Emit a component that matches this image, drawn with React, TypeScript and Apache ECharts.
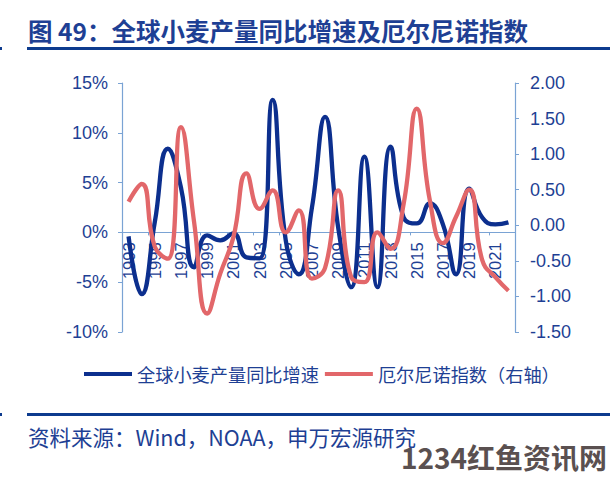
import React, { useEffect, useRef } from "react";
import * as echarts from "echarts";

const years = [
  "1993", "1994", "1995", "1996", "1997", "1998", "1999", "2000", "2001", "2002",
  "2003", "2004", "2005", "2006", "2007", "2008", "2009", "2010", "2011", "2012",
  "2013", "2014", "2015", "2016", "2017", "2018", "2019", "2020", "2021", "2022",
];

// 全球小麦产量同比增速 (%)
const wheatGrowth = [
  -0.4, -6.2, 1.0, 8.4, 4.5, -3.5, -0.3, -0.8, -0.1, -2.5,
  -2.6, 13.3, -0.8, -4.2, 2.5, 11.6, 0.5, -5.5, 7.6, -5.5,
  8.6, 1.5, 0.9, 2.9, 0.8, -4.2, 4.4, 1.5, 0.8, 1.0,
];

// 厄尔尼诺指数 (右轴)
const ensoIndex = [
  0.33, 0.58, -0.3, -0.47, 1.38, 0.05, -1.24, -0.68, -0.17, 0.73,
  0.23, 0.49, -0.1, 0.21, -0.75, -0.6, 0.49, -0.73, -0.8, -0.1,
  -0.33, 0.3, 1.64, 0.35, -0.25, 0.12, 0.5, -0.49, -0.73, -0.92,
];

const seriesNames = ["全球小麦产量同比增速", "厄尔尼诺指数（右轴）"];
const titleText = "图 49：全球小麦产量同比增速及厄尔尼诺指数";
const sourceText = "资料来源：Wind，NOAA，申万宏源研究";
const watermarkText = "1234红鱼资讯网";

const BLUE = "#0c2f8e";
const RED = "#e2676a";
const TEXT = "#1e3f94";
const AXIS = "#7aa3d4";
const RULE = "#0d3b8e";
const CJK = "'Noto Sans CJK SC', sans-serif";
const LATIN = "'Liberation Sans', Arial, sans-serif";

const GRID_TOP = 83;
const GRID_BOTTOM = 150;
const CHART_H = 482;
const LEFT_MIN = -10;
const LEFT_MAX = 15;

export default function App() {
  const ref = useRef<HTMLDivElement>(null);

  useEffect(() => {
    document.body.style.margin = "0";
    if (!ref.current) return;
    const chart = echarts.init(ref.current, undefined, { renderer: "svg" });
    const gridH = CHART_H - GRID_TOP - GRID_BOTTOM;
    // shift the category axis up to the 0% line of the left axis
    const zeroOffset = -(gridH * (0 - LEFT_MIN)) / (LEFT_MAX - LEFT_MIN);
    chart.setOption({
      animation: false,
      backgroundColor: "#ffffff",
      grid: { left: 122, right: 95, top: GRID_TOP, bottom: GRID_BOTTOM, containLabel: false },
      legend: {
        data: seriesNames,
        left: 84,
        top: 365,
        padding: 0,
        icon: "rect",
        itemWidth: 48,
        itemHeight: 4,
        itemGap: 6,
        textStyle: { color: TEXT, fontSize: 18.2, fontFamily: CJK },
      },
      xAxis: {
        type: "category",
        data: years,
        boundaryGap: true,
        offset: zeroOffset,
        axisLine: { show: true, onZero: false, lineStyle: { color: AXIS, width: 1.2 } },
        axisTick: { show: true, interval: 1, length: 3, lineStyle: { color: AXIS } },
        axisLabel: {
          interval: 1,
          rotate: 90,
          margin: 10,
          color: TEXT,
          fontSize: 16.5,
          fontFamily: LATIN,
        },
        splitLine: { show: false },
      },
      yAxis: [
        {
          type: "value",
          min: LEFT_MIN,
          max: LEFT_MAX,
          interval: 5,
          axisLine: { show: true, lineStyle: { color: AXIS, width: 1.2 } },
          axisTick: { show: true, length: 4, lineStyle: { color: AXIS } },
          axisLabel: {
            margin: 14,
            color: TEXT,
            fontSize: 18,
            fontFamily: LATIN,
            formatter: (v: number) => `${v}%`,
          },
          splitLine: { show: false },
        },
        {
          type: "value",
          min: -1.5,
          max: 2.0,
          interval: 0.5,
          position: "right",
          axisLine: { show: true, lineStyle: { color: AXIS, width: 1.2 } },
          axisTick: { show: true, length: 4, lineStyle: { color: AXIS } },
          axisLabel: {
            margin: 15,
            color: TEXT,
            fontSize: 18,
            fontFamily: LATIN,
            formatter: (v: number) => v.toFixed(2),
          },
          splitLine: { show: false },
        },
      ],
      series: [
        {
          name: seriesNames[0],
          type: "line",
          yAxisIndex: 0,
          data: wheatGrowth,
          smooth: true,
          symbol: "none",
          lineStyle: { color: BLUE, width: 4.3 },
          itemStyle: { color: BLUE },
        },
        {
          name: seriesNames[1],
          type: "line",
          yAxisIndex: 1,
          data: ensoIndex,
          smooth: true,
          symbol: "none",
          lineStyle: { color: RED, width: 4.3 },
          itemStyle: { color: RED },
        },
      ],
      graphic: [
        {
          type: "text",
          left: 28,
          top: 18,
          style: {
            text: titleText,
            fill: TEXT,
            font: `bold 24.5px ${CJK}`,
          },
        },
        { type: "rect", shape: { x: 27, y: 47, width: 583, height: 3 }, style: { fill: RULE } },
        { type: "rect", shape: { x: 0, y: 47, width: 2, height: 3 }, style: { fill: RULE } },
        { type: "rect", shape: { x: 27, y: 413, width: 583, height: 3 }, style: { fill: RULE } },
        { type: "rect", shape: { x: 0, y: 413, width: 2, height: 3 }, style: { fill: RULE } },
        {
          type: "text",
          left: 28,
          top: 426,
          style: {
            text: sourceText,
            fill: TEXT,
            font: `21.5px ${CJK}`,
          },
        },
        {
          type: "text",
          right: 3,
          top: 443,
          style: {
            text: watermarkText,
            fill: "#5a5050",
            font: `bold 28px ${CJK}`,
          },
        },
      ],
    });
    return () => chart.dispose();
  }, []);

  return <div ref={ref} style={{ width: 610, height: 482 }} />;
}
